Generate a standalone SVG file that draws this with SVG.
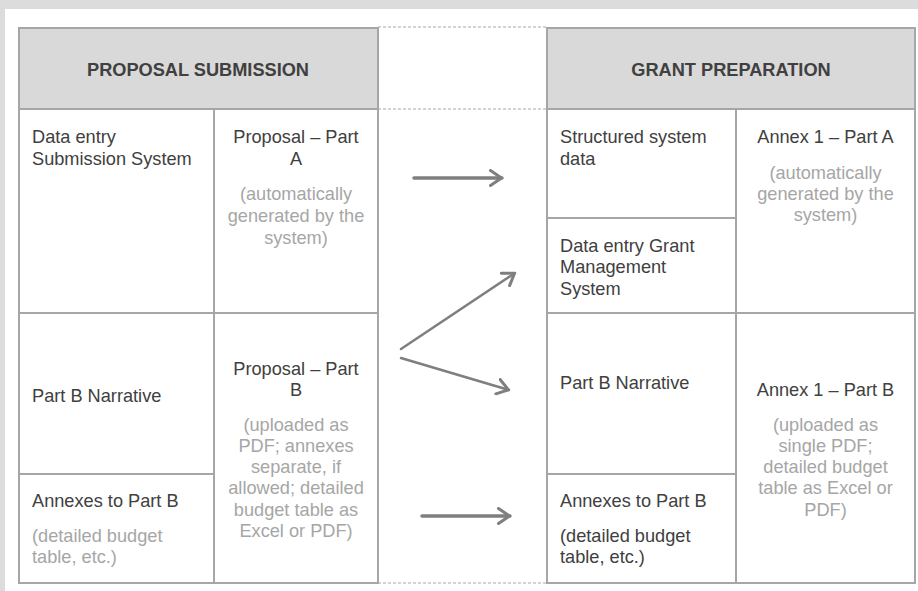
<svg xmlns="http://www.w3.org/2000/svg" width="918" height="591" viewBox="0 0 918 591">
<defs>
<style>
.bg{fill:#dcdcdc}
.panel{fill:#ffffff}
.hdr{fill:#d9d9d9;stroke:#a6a6a6;stroke-width:2}
.cell{fill:#ffffff;stroke:#a6a6a6;stroke-width:2}
.dash{stroke:#a6a6a6;stroke-width:1;stroke-dasharray:3 2;fill:none}
text{font-family:"Liberation Sans",Arial,sans-serif;font-size:18.2px}
.h{font-weight:bold;fill:#404040;text-anchor:middle;font-size:18.2px}
.t{fill:#404040}
.g{fill:#a6a6a6}
.c{text-anchor:middle}
.arr{stroke:#7f7f7f;fill:none;stroke-linecap:round}
</style>
<marker id="ah" viewBox="0 0 14 18" refX="13" refY="9" markerWidth="14" markerHeight="18" markerUnits="userSpaceOnUse" orient="auto">
<path d="M1.5,1.5 L12.5,9 L1.5,16.5" fill="none" stroke="#7f7f7f" stroke-width="3" stroke-linecap="round" stroke-linejoin="round"/>
</marker>
</defs>
<rect class="bg" x="0" y="0" width="918" height="591"/>
<rect class="panel" x="5" y="9" width="913" height="582"/>

<g id="dashed-guides">
<line class="dash" x1="378" y1="27" x2="547" y2="27"/>
<line class="dash" x1="378" y1="109" x2="547" y2="109"/>
<line class="dash" x1="378" y1="583" x2="547" y2="583"/>
</g>

<g id="proposal-submission-header">
<rect class="hdr" x="19" y="28" width="359" height="81"/>
<text class="h" x="198" y="76">PROPOSAL SUBMISSION</text>
</g>
<g id="data-entry-submission">
<rect class="cell" x="19" y="109" width="195" height="204"/>
<text class="t" x="32" y="143">Data entry</text>
<text class="t" x="32" y="165">Submission System</text>
</g>
<g id="proposal-part-a">
<rect class="cell" x="214" y="109" width="164" height="204"/>
<text class="t c" x="296" y="143">Proposal – Part</text>
<text class="t c" x="296" y="165">A</text>
<text class="g c" x="296" y="200">(automatically</text>
<text class="g c" x="296" y="222">generated by the</text>
<text class="g c" x="296" y="244">system)</text>
</g>
<g id="part-b-narrative-left">
<rect class="cell" x="19" y="313" width="195" height="161"/>
<text class="t" x="32" y="402">Part B Narrative</text>
</g>
<g id="annexes-left">
<rect class="cell" x="19" y="474" width="195" height="109"/>
<text class="t" x="32" y="507">Annexes to Part B</text>
<text class="g" x="32" y="542">(detailed budget</text>
<text class="g" x="32" y="563">table, etc.)</text>
</g>
<g id="proposal-part-b">
<rect class="cell" x="214" y="313" width="164" height="270"/>
<text class="t c" x="296" y="375">Proposal – Part</text>
<text class="t c" x="296" y="396">B</text>
<text class="g c" x="296" y="431">(uploaded as</text>
<text class="g c" x="296" y="452">PDF; annexes</text>
<text class="g c" x="296" y="473">separate, if</text>
<text class="g c" x="296" y="494">allowed; detailed</text>
<text class="g c" x="296" y="516">budget table as</text>
<text class="g c" x="296" y="537">Excel or PDF)</text>
</g>

<g id="grant-preparation-header">
<rect class="hdr" x="547" y="28" width="368" height="81"/>
<text class="h" x="731" y="76">GRANT PREPARATION</text>
</g>
<g id="structured-system-data">
<rect class="cell" x="547" y="109" width="189" height="109"/>
<text class="t" x="560" y="143">Structured system</text>
<text class="t" x="560" y="165">data</text>
</g>
<g id="data-entry-grant">
<rect class="cell" x="547" y="218" width="189" height="95"/>
<text class="t" x="560" y="252">Data entry Grant</text>
<text class="t" x="560" y="273">Management</text>
<text class="t" x="560" y="295">System</text>
</g>
<g id="annex1-part-a">
<rect class="cell" x="736" y="109" width="179" height="204"/>
<text class="t c" x="825.5" y="143">Annex 1 – Part A</text>
<text class="g c" x="825.5" y="179">(automatically</text>
<text class="g c" x="825.5" y="200">generated by the</text>
<text class="g c" x="825.5" y="221">system)</text>
</g>
<g id="part-b-narrative-right">
<rect class="cell" x="547" y="313" width="189" height="161"/>
<text class="t" x="560" y="389">Part B Narrative</text>
</g>
<g id="annexes-right">
<rect class="cell" x="547" y="474" width="189" height="109"/>
<text class="t" x="560" y="507">Annexes to Part B</text>
<text class="t" x="560" y="542">(detailed budget</text>
<text class="t" x="560" y="563">table, etc.)</text>
</g>
<g id="annex1-part-b">
<rect class="cell" x="736" y="313" width="179" height="270"/>
<text class="t c" x="825.5" y="396">Annex 1 – Part B</text>
<text class="g c" x="825.5" y="431">(uploaded as</text>
<text class="g c" x="825.5" y="452">single PDF;</text>
<text class="g c" x="825.5" y="473">detailed budget</text>
<text class="g c" x="825.5" y="494">table as Excel or</text>
<text class="g c" x="825.5" y="516">PDF)</text>
</g>

<g id="connectors">
<line class="arr" x1="414" y1="178" x2="502" y2="178" stroke-width="3.5" marker-end="url(#ah)"/>
<line class="arr" x1="401" y1="349" x2="515" y2="273" stroke-width="2.5" marker-end="url(#ah)"/>
<line class="arr" x1="401" y1="358" x2="509" y2="390" stroke-width="2.5" marker-end="url(#ah)"/>
<line class="arr" x1="422" y1="516" x2="510" y2="516" stroke-width="3.5" marker-end="url(#ah)"/>
</g>
</svg>
